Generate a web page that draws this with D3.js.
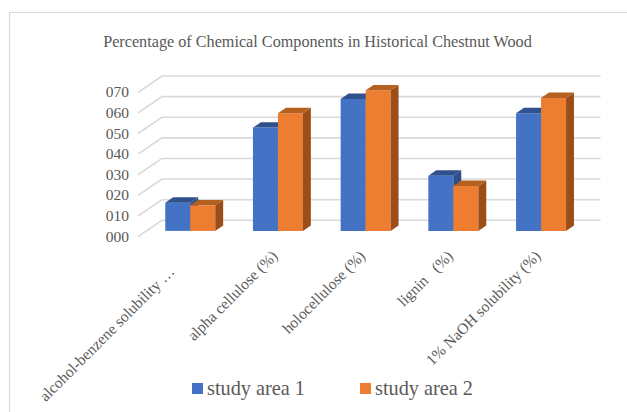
<!DOCTYPE html>
<html><head><meta charset="utf-8">
<script src="https://cdn.jsdelivr.net/npm/d3@7"></script>
<style>body{margin:0;background:#fff}svg{display:block}</style>
</head><body>
<script>
const categories = ["alcohol-benzene solubility …", "alpha cellulose (%)", "holocellulose (%)", "lignin   (%)", "1% NaOH solubility (%)"];
const seriesNames = ["study area 1", "study area 2"];
const area1 = [13.7, 50.1, 64.0, 26.8, 57.1];
const area2 = [12.4, 57.1, 68.2, 21.8, 64.5];
const yTicks = [0, 10, 20, 30, 40, 50, 60, 70];
const title = "Percentage of Chemical Components in Historical Chestnut Wood";

const W = 627, H = 412;
const font = '"Liberation Serif", "Times New Roman", serif';
const textColor = "#595959";
const grid = "#d9d9d9";
const colors = [
  {front: "#4472C4", top: "#2F528F", side: "#2E4F8A"},
  {front: "#ED7D31", top: "#B4601E", side: "#9C4E18"}
];

const svg = d3.select("body").append("svg").attr("width", W).attr("height", H);

// frame
svg.append("rect").attr("x", 9.5).attr("y", 12.5).attr("width", W + 10).attr("height", H + 10)
  .attr("fill", "none").attr("stroke", grid).attr("stroke-width", 1.2);

// title
svg.append("text").attr("x", 317.5).attr("y", 47).attr("text-anchor", "middle")
  .style("font-family", font).attr("font-size", 16.2).attr("fill", textColor).text(title);

// 3D projection: front plane scales + depth offset
const DX = 24, DY = 16.3;
const x = d3.scaleBand().domain(categories).range([138, 576.5]).paddingInner(0.43).paddingOuter(0.215);
const xs = d3.scaleBand().domain(seriesNames).range([0, x.bandwidth()]);
const y = d3.scaleLinear().domain([0, 70]).range([236.6, 92.3]);
const P = (px, v, z) => [px + z * DX, y(v) - z * DY];

// gridlines: left wall diagonal + back wall horizontal
const xL = x.range()[0], xR = x.range()[1];
const g = svg.append("g");
yTicks.forEach(t => {
  const a = P(xL, t, 0), b = P(xL, t, 1), c = P(xR, t, 1);
  g.append("polyline").attr("points", [a, b, c].map(p => p.join(",")).join(" "))
    .attr("fill", "none").attr("stroke", grid).attr("stroke-width", 1.6);
});

// y axis labels
svg.append("g").selectAll("text").data(yTicks).join("text")
  .attr("x", xL - 9).attr("y", d => y(d) + 5)
  .attr("text-anchor", "end").style("font-family", font).attr("font-size", 15.5)
  .attr("fill", textColor).text(d3.format("03d"));

// bars
const z0 = 0.35, z1 = 0.68;
const bars = svg.append("g");
categories.forEach((c, i) => {
  [area1[i], area2[i]].forEach((v, s) => {
    const x0 = x(c) + xs(seriesNames[s]), x1 = x0 + xs.bandwidth();
    const poly = pts => pts.map(p => p.join(",")).join(" ");
    const col = colors[s];
    bars.append("polygon").attr("points", poly([P(x0, 0, z0), P(x1, 0, z0), P(x1, v, z0), P(x0, v, z0)])).attr("fill", col.front);
    bars.append("polygon").attr("points", poly([P(x1, 0, z0), P(x1, 0, z1), P(x1, v, z1), P(x1, v, z0)])).attr("fill", col.side);
    bars.append("polygon").attr("points", poly([P(x0, v, z0), P(x1, v, z0), P(x1, v, z1), P(x0, v, z1)])).attr("fill", col.top);
  });
});

// category labels rotated (truncated label sits further down its diagonal)
svg.append("g").selectAll("text").data(categories).join("text")
  .attr("transform", d => {
    const back = d.endsWith("…") ? 15.5 : 0;
    const cx = x(d) + x.bandwidth() / 2 + 9 - back;
    return `translate(${cx},${257 + back}) rotate(-45)`;
  })
  .attr("text-anchor", "end").style("font-family", font).attr("font-size", 15.5)
  .style("white-space", "pre")
  .attr("fill", textColor).text(d => d);

// legend
const leg = svg.append("g");
const legX = [192, 360];
seriesNames.forEach((n, s) => {
  leg.append("rect").attr("x", legX[s]).attr("y", 383).attr("width", 11).attr("height", 11).attr("fill", colors[s].front);
  leg.append("text").attr("x", legX[s] + 15).attr("y", 395).style("font-family", font).attr("font-size", 20.3)
    .attr("fill", textColor).text(n);
});
</script>
</body></html>
